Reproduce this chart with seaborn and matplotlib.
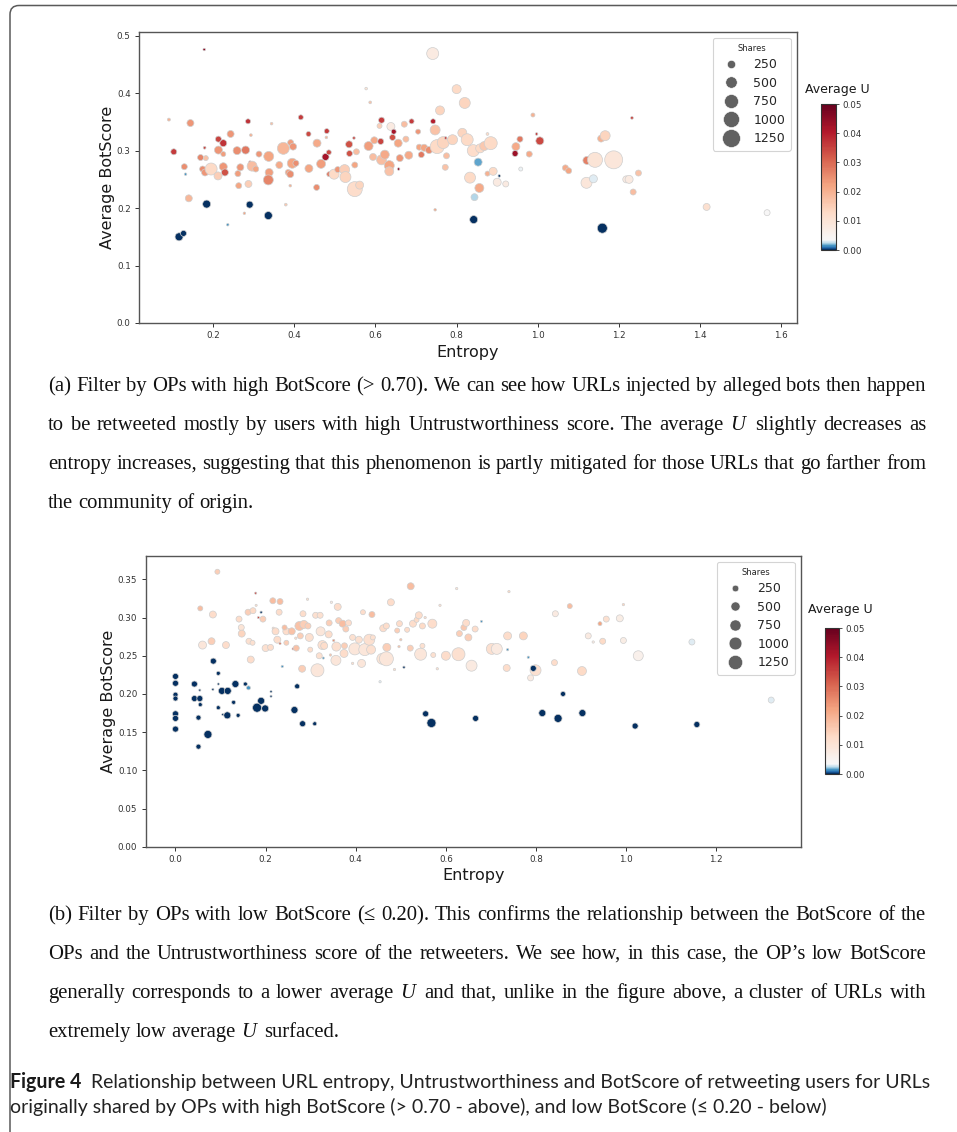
import numpy as np
import pandas as pd
import matplotlib
matplotlib.use("Agg")
import matplotlib.pyplot as plt
import seaborn as sns
from matplotlib.colors import ListedColormap, Normalize
from matplotlib.cm import ScalarMappable
from matplotlib.lines import Line2D
from matplotlib.patches import FancyBboxPatch
from matplotlib.transforms import IdentityTransform
from matplotlib.ticker import MultipleLocator, FormatStrFormatter

# ---------------------------------------------------------------- data
# (a) OPs with high BotScore
hi_entropy = [0.091, 0.178, 0.103, 0.144, 0.129, 0.169, 0.179, 0.182, 0.174, 0.180,
              0.195, 0.132, 0.140, 0.184, 0.116, 0.127, 0.213, 0.225, 0.213, 0.225,
              0.225, 0.229, 0.212, 0.243, 0.259, 0.280, 0.286, 0.293, 0.291, 0.296,
              0.267, 0.261, 0.263, 0.287, 0.290, 0.313, 0.305, 0.277, 0.236, 0.337,
              0.338, 0.336, 0.344, 0.363, 0.373, 0.391, 0.397, 0.395, 0.404, 0.385,
              0.390, 0.390, 0.379, 0.336, 0.416, 0.435, 0.456, 0.436, 0.466, 0.455,
              0.480, 0.479, 0.477, 0.485, 0.486, 0.498, 0.507, 0.524, 0.526, 0.549,
              0.561, 0.549, 0.547, 0.535, 0.536, 0.553, 0.577, 0.587, 0.583, 0.594,
              0.597, 0.610, 0.615, 0.613, 0.615, 0.623, 0.634, 0.634, 0.638, 0.642,
              0.645, 0.656, 0.657, 0.660, 0.671, 0.675, 0.682, 0.689, 0.705, 0.708,
              0.713, 0.720, 0.732, 0.741, 0.742, 0.747, 0.752, 0.759, 0.747, 0.767,
              0.773, 0.775, 0.772, 0.790, 0.800, 0.820, 0.814, 0.826, 0.841, 0.858,
              0.868, 0.884, 0.876, 0.853, 0.833, 0.856, 0.844, 0.842, 0.876, 0.890,
              0.900, 0.921, 0.905, 0.958, 0.946, 0.956, 0.944, 0.979, 0.988, 0.997,
              1.005, 1.068, 1.076, 1.121, 1.141, 1.156, 1.166, 1.187, 1.120, 1.137,
              1.159, 1.218, 1.225, 1.232, 1.248, 1.235, 1.416, 1.565]
hi_botscore = [0.354, 0.476, 0.298, 0.348, 0.272, 0.288, 0.305, 0.287, 0.268, 0.262,
               0.268, 0.259, 0.217, 0.207, 0.150, 0.156, 0.320, 0.313, 0.301, 0.294,
               0.272, 0.262, 0.256, 0.329, 0.300, 0.301, 0.351, 0.327, 0.280, 0.273,
               0.271, 0.260, 0.239, 0.242, 0.206, 0.294, 0.268, 0.191, 0.171, 0.290,
               0.262, 0.249, 0.347, 0.275, 0.304, 0.314, 0.307, 0.278, 0.278, 0.262,
               0.259, 0.239, 0.206, 0.187, 0.358, 0.329, 0.313, 0.269, 0.277, 0.236,
               0.334, 0.323, 0.289, 0.297, 0.259, 0.259, 0.267, 0.267, 0.254, 0.233,
               0.240, 0.275, 0.322, 0.311, 0.295, 0.298, 0.408, 0.384, 0.308, 0.289,
               0.318, 0.343, 0.353, 0.316, 0.284, 0.293, 0.274, 0.264, 0.342, 0.323,
               0.333, 0.313, 0.268, 0.287, 0.346, 0.320, 0.292, 0.351, 0.333, 0.306,
               0.293, 0.305, 0.301, 0.469, 0.351, 0.336, 0.307, 0.370, 0.197, 0.314,
               0.322, 0.291, 0.271, 0.319, 0.407, 0.383, 0.331, 0.319, 0.300, 0.304,
               0.308, 0.313, 0.329, 0.280, 0.253, 0.235, 0.219, 0.180, 0.260, 0.264,
               0.245, 0.242, 0.256, 0.268, 0.307, 0.320, 0.295, 0.294, 0.362, 0.329,
               0.317, 0.270, 0.265, 0.283, 0.284, 0.321, 0.326, 0.284, 0.244, 0.251,
               0.165, 0.250, 0.250, 0.357, 0.261, 0.228, 0.202, 0.192]
hi_shares = [20, 10, 126, 177, 126, 126, 15, 83, 126, 177,
             550, 10, 177, 236, 236, 126, 126, 177, 236, 83,
             236, 177, 236, 177, 236, 236, 83, 15, 12, 377,
             177, 126, 126, 177, 177, 126, 126, 10, 10, 377,
             236, 377, 12, 177, 550, 126, 177, 377, 126, 126,
             177, 12, 15, 236, 83, 83, 236, 236, 303, 126,
             83, 12, 177, 83, 83, 377, 126, 377, 460, 868,
             236, 126, 12, 177, 126, 126, 12, 15, 303, 177,
             177, 83, 126, 126, 377, 303, 377, 303, 236, 126,
             83, 236, 10, 177, 126, 126, 236, 83, 83, 126,
             126, 177, 177, 550, 83, 377, 755, 303, 10, 550,
             12, 126, 126, 377, 303, 460, 303, 550, 550, 303,
             303, 648, 15, 236, 460, 303, 177, 236, 83, 236,
             236, 126, 10, 48, 236, 126, 126, 126, 48, 12,
             236, 126, 126, 236, 868, 177, 377, 1250, 460, 236,
             377, 177, 236, 15, 126, 126, 177, 126]
hi_avg_u = [0.020, 0.045, 0.036, 0.024, 0.025, 0.026, 0.035, 0.017, 0.025, 0.024,
            0.013, 0.0015, 0.019, 0.0, 0.0, 0.0, 0.035, 0.037, 0.024, 0.023,
            0.024, 0.033, 0.015, 0.024, 0.025, 0.028, 0.037, 0.020, 0.035, 0.018,
            0.024, 0.023, 0.022, 0.015, 0.0, 0.024, 0.022, 0.022, 0.0015, 0.022,
            0.023, 0.026, 0.018, 0.021, 0.019, 0.023, 0.024, 0.022, 0.025, 0.023,
            0.025, 0.020, 0.016, 0.0, 0.036, 0.034, 0.021, 0.022, 0.023, 0.025,
            0.036, 0.020, 0.042, 0.034, 0.028, 0.013, 0.024, 0.015, 0.014, 0.012,
            0.014, 0.022, 0.035, 0.033, 0.033, 0.018, 0.010, 0.017, 0.023, 0.018,
            0.021, 0.015, 0.036, 0.035, 0.018, 0.021, 0.022, 0.017, 0.008, 0.033,
            0.042, 0.022, 0.045, 0.024, 0.018, 0.018, 0.021, 0.036, 0.024, 0.022,
            0.028, 0.022, 0.025, 0.008, 0.040, 0.017, 0.013, 0.014, 0.022, 0.014,
            0.035, 0.018, 0.017, 0.014, 0.013, 0.014, 0.014, 0.013, 0.012, 0.013,
            0.016, 0.013, 0.013, 0.0016, 0.013, 0.021, 0.0025, 0.0, 0.020, 0.013,
            0.008, 0.008, 0.0, 0.0033, 0.021, 0.028, 0.043, 0.021, 0.020, 0.036,
            0.034, 0.021, 0.022, 0.027, 0.010, 0.020, 0.014, 0.009, 0.009, 0.003,
            0.0, 0.008, 0.008, 0.035, 0.017, 0.018, 0.011, 0.0038]

# (b) OPs with low BotScore
lo_entropy = [0.093, 0.055, 0.083, 0.060, 0.080, 0.112, 0.141, 0.146, 0.147, 0.161,
              0.172, 0.163, 0.171, 0.167, 0.178, 0.179, 0.184, 0.194, 0.216, 0.232,
              0.230, 0.217, 0.222, 0.226, 0.232, 0.200, 0.211, 0.246, 0.246, 0.258,
              0.242, 0.261, 0.268, 0.267, 0.277, 0.275, 0.285, 0.294, 0.283, 0.293,
              0.299, 0.297, 0.281, 0.315, 0.311, 0.321, 0.322, 0.319, 0.326, 0.330,
              0.340, 0.346, 0.341, 0.344, 0.351, 0.360, 0.362, 0.371, 0.378, 0.357,
              0.356, 0.375, 0.374, 0.384, 0.393, 0.398, 0.393, 0.407, 0.416, 0.413,
              0.420, 0.430, 0.434, 0.436, 0.438, 0.461, 0.468, 0.459, 0.468, 0.469,
              0.478, 0.486, 0.492, 0.497, 0.496, 0.500, 0.514, 0.521, 0.522, 0.527,
              0.535, 0.540, 0.544, 0.548, 0.548, 0.554, 0.570, 0.572, 0.581, 0.587,
              0.600, 0.624, 0.628, 0.630, 0.640, 0.645, 0.650, 0.657, 0.665, 0.702,
              0.713, 0.740, 0.737, 0.772, 0.735, 0.799, 0.788, 0.843, 0.875, 0.841,
              0.902, 0.916, 0.927, 0.948, 0.942, 0.956, 0.986, 0.994, 0.994, 1.027,
              0.000, 0.000, 0.000, 0.000, 0.000, 0.000, 0.000, 0.042, 0.042, 0.054,
              0.054, 0.055, 0.051, 0.051, 0.072, 0.084, 0.083, 0.095, 0.095, 0.095,
              0.103, 0.116, 0.105, 0.115, 0.129, 0.133, 0.139, 0.155, 0.162, 0.190,
              0.181, 0.190, 0.199, 0.212, 0.212, 0.237, 0.264, 0.270, 0.282, 0.309,
              0.507, 0.555, 0.568, 0.666, 0.328, 0.679, 0.737, 0.783, 0.794, 0.860,
              0.814, 0.849, 0.903, 1.020, 1.157, 1.146, 1.322, 0.454]
lo_botscore = [0.360, 0.312, 0.304, 0.264, 0.269, 0.264, 0.298, 0.287, 0.279, 0.307,
               0.309, 0.269, 0.267, 0.245, 0.332, 0.316, 0.300, 0.298, 0.322, 0.321,
               0.307, 0.286, 0.282, 0.271, 0.266, 0.260, 0.261, 0.267, 0.282, 0.282,
               0.287, 0.259, 0.260, 0.273, 0.276, 0.289, 0.291, 0.289, 0.305, 0.324,
               0.258, 0.274, 0.233, 0.231, 0.303, 0.303, 0.282, 0.250, 0.264, 0.263,
               0.278, 0.320, 0.293, 0.251, 0.270, 0.314, 0.296, 0.292, 0.285, 0.262,
               0.244, 0.263, 0.253, 0.293, 0.240, 0.259, 0.274, 0.271, 0.307, 0.240,
               0.258, 0.271, 0.258, 0.304, 0.274, 0.286, 0.289, 0.246, 0.246, 0.261,
               0.320, 0.232, 0.283, 0.292, 0.262, 0.271, 0.284, 0.260, 0.341, 0.292,
               0.297, 0.303, 0.252, 0.289, 0.263, 0.300, 0.292, 0.251, 0.233, 0.316,
               0.250, 0.338, 0.252, 0.279, 0.287, 0.293, 0.274, 0.237, 0.285, 0.259,
               0.259, 0.334, 0.276, 0.276, 0.234, 0.231, 0.221, 0.305, 0.315, 0.241,
               0.230, 0.276, 0.268, 0.269, 0.292, 0.298, 0.299, 0.317, 0.270, 0.250,
               0.223, 0.214, 0.199, 0.194, 0.174, 0.168, 0.154, 0.213, 0.194, 0.194,
               0.205, 0.186, 0.169, 0.131, 0.147, 0.243, 0.206, 0.227, 0.213, 0.182,
               0.204, 0.204, 0.173, 0.172, 0.189, 0.213, 0.172, 0.213, 0.208, 0.307,
               0.182, 0.191, 0.181, 0.203, 0.197, 0.236, 0.179, 0.210, 0.161, 0.161,
               0.235, 0.174, 0.162, 0.168, 0.247, 0.295, 0.258, 0.248, 0.2335, 0.200,
               0.175, 0.168, 0.175, 0.158, 0.160, 0.268, 0.192, 0.216]
lo_shares = [133, 133, 283, 377, 283, 283, 202, 202, 283, 202,
             202, 202, 133, 283, 5, 5, 5, 202, 202, 202,
             202, 10, 283, 283, 5, 283, 202, 133, 283, 283,
             133, 5, 202, 10, 202, 484, 377, 202, 202, 10,
             133, 377, 283, 1035, 202, 202, 484, 202, 484, 283,
             283, 10, 202, 10, 10, 283, 202, 283, 202, 484,
             602, 202, 377, 202, 10, 878, 202, 283, 133, 377,
             878, 734, 484, 202, 133, 283, 202, 734, 1204, 377,
             283, 10, 133, 202, 10, 10, 133, 202, 283, 283,
             133, 283, 878, 202, 133, 10, 484, 133, 10, 10,
             484, 10, 1035, 202, 202, 283, 283, 734, 202, 734,
             734, 10, 377, 377, 283, 734, 202, 202, 133, 202,
             484, 202, 10, 202, 76, 202, 283, 10, 202, 602,
             202, 202, 133, 133, 202, 202, 202, 202, 202, 202,
             5, 76, 133, 133, 377, 202, 5, 76, 5, 76,
             283, 283, 5, 283, 76, 283, 76, 76, 76, 10,
             484, 283, 283, 5, 5, 10, 283, 133, 202, 76,
             10, 202, 484, 202, 5, 5, 10, 10, 202, 133,
             283, 377, 283, 202, 202, 202, 202, 10]
lo_avg_u = [0.015, 0.018, 0.012, 0.009, 0.015, 0.012, 0.012, 0.010, 0.014, 0.015,
            0.013, 0.011, 0.011, 0.012, 0.035, 0.012, 0.035, 0.015, 0.018, 0.018,
            0.012, 0.012, 0.012, 0.012, 0.030, 0.011, 0.012, 0.015, 0.012, 0.017,
            0.018, 0.035, 0.017, 0.012, 0.015, 0.017, 0.015, 0.015, 0.012, 0.011,
            0.012, 0.011, 0.015, 0.009, 0.011, 0.011, 0.009, 0.011, 0.011, 0.012,
            0.012, 0.008, 0.015, 0.017, 0.025, 0.012, 0.015, 0.018, 0.015, 0.011,
            0.009, 0.015, 0.012, 0.012, 0.012, 0.009, 0.011, 0.011, 0.012, 0.009,
            0.009, 0.011, 0.011, 0.018, 0.011, 0.012, 0.012, 0.010, 0.009, 0.015,
            0.012, 0.012, 0.015, 0.012, 0.017, 0.017, 0.012, 0.015, 0.018, 0.012,
            0.013, 0.012, 0.009, 0.013, 0.011, 0.012, 0.012, 0.011, 0.011, 0.011,
            0.012, 0.010, 0.011, 0.015, 0.016, 0.012, 0.015, 0.008, 0.012, 0.011,
            0.008, 0.013, 0.012, 0.014, 0.012, 0.011, 0.008, 0.008, 0.018, 0.012,
            0.013, 0.008, 0.008, 0.013, 0.022, 0.011, 0.007, 0.014, 0.007, 0.006,
            0.0, 0.0, 0.0, 0.0, 0.0, 0.0, 0.0, 0.0, 0.0, 0.0,
            0.0, 0.0, 0.0, 0.0, 0.0, 0.0, 0.0, 0.0, 0.0, 0.0,
            0.0, 0.0, 0.0, 0.0, 0.0, 0.0, 0.0, 0.0, 0.0015, 0.0,
            0.0, 0.0, 0.0, 0.0, 0.0, 0.0015, 0.0, 0.0, 0.0, 0.0,
            0.0, 0.0, 0.0, 0.0, 0.0015, 0.0015, 0.0015, 0.0015, 0.0, 0.0,
            0.0, 0.0, 0.0, 0.0, 0.0, 0.003, 0.003, 0.003]

legend_shares = [250, 500, 750, 1000, 1250]
u_ticks = [0.00, 0.01, 0.02, 0.03, 0.04, 0.05]

caption_a = [
    "(a) Filter by OPs with high BotScore (> 0.70). We can see how URLs injected by alleged bots then happen",
    "to be retweeted mostly by users with high Untrustworthiness score. The average $U$ slightly decreases as",
    "entropy increases, suggesting that this phenomenon is partly mitigated for those URLs that go farther from",
    "the community of origin.",
]
caption_b = [
    "(b) Filter by OPs with low BotScore (\u2264 0.20). This confirms the relationship between the BotScore of the",
    "OPs and the Untrustworthiness score of the retweeters. We see how, in this case, the OP\u2019s low BotScore",
    "generally corresponds to a lower average $U$ and that, unlike in the figure above, a cluster of URLs with",
    "extremely low average $U$ surfaced.",
]
figure_label = "Figure 4"
figure_caption = [
    "Relationship between URL entropy, Untrustworthiness and BotScore of retweeting users for URLs",
    "originally shared by OPs with high BotScore (> 0.70 - above), and low BotScore (\u2264 0.20 - below)",
]

# ---------------------------------------------------------------- style
sns.set_theme(style="ticks")
plt.rcParams["font.family"] = ["DejaVu Sans"]
plt.rcParams["mathtext.fontset"] = "custom"
plt.rcParams["mathtext.it"] = "Liberation Serif:italic"
plt.rcParams["mathtext.rm"] = "Liberation Serif"

W, H = 957, 1132
fig = plt.figure(figsize=(W / 100, H / 100), dpi=100)
fig.patch.set_facecolor("white")

# diverging map with the blue half squeezed into the lowest few percent
base = plt.get_cmap("RdBu_r")
n_low = 18
n_high = 256 - n_low
u_cmap = ListedColormap(np.vstack([base(np.linspace(0.0, 0.5, n_low)),
                                   base(np.linspace(0.5, 1.0, n_high))]))
u_norm = Normalize(0.0, 0.05)
SHARE_MAX = 1500


def fig_rect(left, top, right, bottom):
    return [left / W, 1 - bottom / H, (right - left) / W, (bottom - top) / H]


def panel(rect, cbar_rect, cbar_title_xy, ent, bot, shares, avg_u, area_range,
          xstep, ylim, ystep, yfmt):
    ax = fig.add_axes(fig_rect(*rect))
    df = pd.DataFrame({"Entropy": ent, "Average BotScore": bot,
                       "Shares": shares, "Average U": avg_u})
    sns.scatterplot(data=df, x="Entropy", y="Average BotScore", hue="Average U",
                    size="Shares", palette=u_cmap, hue_norm=u_norm,
                    sizes=area_range, size_norm=(0, SHARE_MAX),
                    edgecolor="#cfcfcf", linewidth=0.5, legend=False, ax=ax)
    ax.set_ylim(*ylim)
    ax.xaxis.set_major_locator(MultipleLocator(xstep))
    ax.yaxis.set_major_locator(MultipleLocator(ystep))
    ax.xaxis.set_major_formatter(FormatStrFormatter("%.1f"))
    ax.yaxis.set_major_formatter(FormatStrFormatter(yfmt))
    ax.tick_params(labelsize=6.3, colors="#333333", length=3, width=0.7, pad=3)
    for sp in ax.spines.values():
        sp.set_visible(True)
        sp.set_color("#555555")
        sp.set_linewidth(1.0)
    ax.set_xlabel("Entropy", fontsize=11.5, color="#1a1a1a", labelpad=3)
    ax.set_ylabel("Average BotScore", fontsize=11.5, color="#1a1a1a", labelpad=1)

    lo, hi = area_range
    handles = [Line2D([], [], ls="", marker="o", color="#616161", markeredgecolor="white",
                      markeredgewidth=0.4,
                      markersize=np.sqrt(lo + (hi - lo) * v / SHARE_MAX))
               for v in legend_shares]
    leg = ax.legend(handles, [str(v) for v in legend_shares], title="Shares",
                    loc="upper right", fontsize=9, title_fontsize=6,
                    labelspacing=0.44, handlelength=2.0, handletextpad=0.8,
                    borderpad=0.45, frameon=True, fancybox=True, framealpha=0.9,
                    edgecolor="#d0d0d0", borderaxespad=0.5)
    leg.get_frame().set_linewidth(0.8)

    cax = fig.add_axes(fig_rect(*cbar_rect))
    cb = fig.colorbar(ScalarMappable(norm=u_norm, cmap=u_cmap), cax=cax)
    cb.set_ticks(u_ticks)
    cb.ax.yaxis.set_major_formatter(FormatStrFormatter("%.2f"))
    cb.ax.tick_params(labelsize=6.3, colors="#333333", length=2.5, width=0.6, pad=2)
    cb.outline.set_edgecolor("#333333")
    cb.outline.set_linewidth(0.8)
    fig.text(cbar_title_xy[0] / W, 1 - cbar_title_xy[1] / H, "Average U",
             fontsize=9, color="#1a1a1a", ha="center", va="center")
    return ax


panel((139, 31.7, 797, 323), (821, 104, 836.5, 250), (837, 89),
      hi_entropy, hi_botscore, hi_shares, hi_avg_u, (2, 200),
      0.2, (0, 0.507), 0.1, "%.1f")
panel((145.7, 555.7, 801, 846.7), (825, 628, 839, 774), (840, 609),
      lo_entropy, lo_botscore, lo_shares, lo_avg_u, (2, 126),
      0.2, (0, 0.381), 0.05, "%.2f")

# ---------------------------------------------------------------- captions
renderer = fig.canvas.get_renderer()


def text_width(s, size, family, weight="normal"):
    t = fig.text(0, 0, s, transform=IdentityTransform(), fontsize=size,
                 family=family, weight=weight)
    w = t.get_window_extent(renderer).width
    t.remove()
    return w


def place_words(words, x0, x1, y_base, size, family, justify, color="#111111"):
    """words: list of (text, weight). Placed in pixel coords (y from top)."""
    widths = [text_width(w, size, family, wt) for w, wt in words]
    space = text_width("a a", size, family) - text_width("aa", size, family)
    if justify and len(words) > 1:
        gap = (x1 - x0 - sum(widths)) / (len(words) - 1)
    else:
        gap = space
    x = x0
    for (w, wt), wd in zip(words, widths):
        fig.text(x, H - y_base, w, transform=IdentityTransform(), fontsize=size,
                 family=family, weight=wt, color=color, va="baseline", ha="left")
        x += wd + gap


serif = ["Liberation Serif", "DejaVu Serif"]
sans = ["Lato", "DejaVu Sans"]

ref_w = text_width(caption_a[0], 12, serif)
serif_size = 12 * (926 - 48) / ref_w
for lines, y0 in ((caption_a, 391), (caption_b, 920)):
    for i, line in enumerate(lines):
        words = [(w, "normal") for w in line.split(" ")]
        place_words(words, 48, 926, y0 + i * 39, serif_size, serif,
                    justify=(i < len(lines) - 1))

first = figure_label + "  " + figure_caption[0]
ref_w = text_width(first, 12, sans)
sans_size = 12 * (928 - 10) / ref_w
label_w = text_width(figure_label, sans_size, sans, "bold")
space = text_width("a a", sans_size, sans) - text_width("aa", sans_size, sans)
cap_y1, cap_y2 = 1088, 1113
fig.text(10, H - cap_y1, figure_label, transform=IdentityTransform(), fontsize=sans_size,
         family=sans, weight="bold", color="#1a1a1a", va="baseline")
fig.text(10 + label_w + 2 * space, H - cap_y1, figure_caption[0],
         transform=IdentityTransform(), fontsize=sans_size, family=sans,
         color="#222222", va="baseline")
fig.text(10, H - cap_y2, figure_caption[1], transform=IdentityTransform(),
         fontsize=sans_size, family=sans, color="#222222", va="baseline")

# rounded frame around the page block
frame = FancyBboxPatch((10, -40), 1000, H - 5.5 + 40,
                       boxstyle="round,pad=0,rounding_size=9",
                       transform=IdentityTransform(), fill=False,
                       edgecolor="#5a5a5a", linewidth=1.1)
fig.add_artist(frame)

fig.savefig("out.png", dpi=100, facecolor="white")
